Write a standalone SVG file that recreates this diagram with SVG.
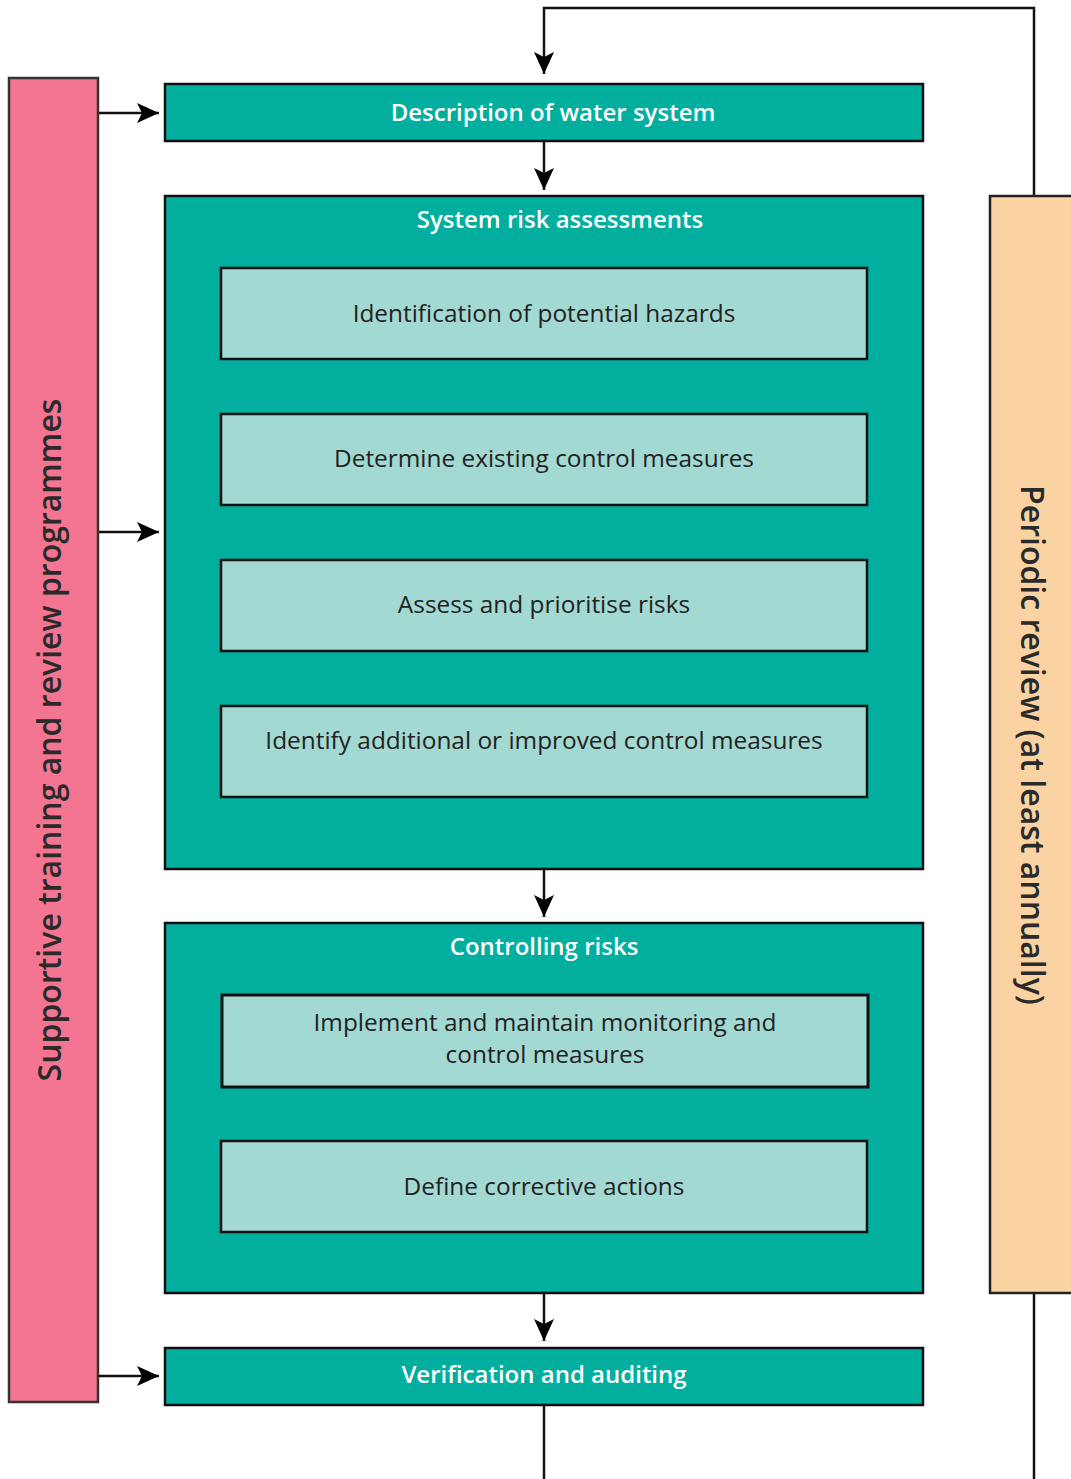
<svg xmlns="http://www.w3.org/2000/svg" width="1071" height="1479" viewBox="0 0 1071 1479">
<style>
.main{fill:#02AE9E;stroke:#111;stroke-width:2.5}
.sub{fill:#A2D9D2;stroke:#111;stroke-width:2.5}
.ht{font-family:"Open Sans","Noto Sans",sans-serif;font-weight:600;font-size:24px;fill:#fff;text-anchor:middle}
.st{font-family:"Open Sans","Noto Sans",sans-serif;font-size:24.4px;fill:#222;text-anchor:middle}
.vt{font-family:"Open Sans","Noto Sans",sans-serif;font-weight:600;font-size:32px;fill:#2a2a2a;text-anchor:middle}
.ln{fill:none;stroke:#111;stroke-width:2.5}
</style>
<defs>
<marker id="ah" markerUnits="userSpaceOnUse" markerWidth="24" markerHeight="22" refX="22" refY="10" orient="auto">
<path d="M0,0 L22,10 L0,20 L5,10 z" fill="#000"/>
</marker>
</defs>
<rect width="1071" height="1479" fill="#fff"/>
<g id="connectors">
<path class="ln" d="M1034,196 V8 H544 V74" marker-end="url(#ah)"/>
<path class="ln" d="M544,141 V190" marker-end="url(#ah)"/>
<path class="ln" d="M544,869 V917" marker-end="url(#ah)"/>
<path class="ln" d="M544,1293 V1341" marker-end="url(#ah)"/>
<path class="ln" d="M544,1405 V1479"/>
<path class="ln" d="M1034,1293 V1479"/>
<path class="ln" d="M98,113 H159" marker-end="url(#ah)"/>
<path class="ln" d="M98,532 H159" marker-end="url(#ah)"/>
<path class="ln" d="M98,1376 H159" marker-end="url(#ah)"/>
</g>
<g id="training">
<rect x="9" y="78" width="89" height="1324" fill="#F37592" stroke="#333" stroke-width="2.5"/>
<text class="vt" transform="translate(61,740) rotate(-90)">Supportive training and review programmes</text>
</g>
<g id="periodic">
<rect x="990" y="196" width="90" height="1097" fill="#FBD3A2" stroke="#222" stroke-width="2.5"/>
<text class="vt" transform="translate(1021,745) rotate(90)">Periodic review (at least annually)</text>
</g>
<g id="description">
<rect class="main" x="165" y="84" width="758" height="57"/>
<text class="ht" x="553" y="121">Description of water system</text>
</g>
<g id="risk">
<rect class="main" x="165" y="196" width="758" height="673"/>
<text class="ht" x="560" y="228">System risk assessments</text>
</g>
<g id="hazards">
<rect class="sub" x="221" y="268" width="646" height="91"/>
<text class="st" x="544" y="322">Identification of potential hazards</text>
</g>
<g id="existing">
<rect class="sub" x="221" y="414" width="646" height="91"/>
<text class="st" x="544" y="467">Determine existing control measures</text>
</g>
<g id="assess">
<rect class="sub" x="221" y="560" width="646" height="91"/>
<text class="st" x="544" y="613">Assess and prioritise risks</text>
</g>
<g id="additional">
<rect class="sub" x="221" y="706" width="646" height="91"/>
<text class="st" x="544" y="749">Identify additional or improved control measures</text>
</g>
<g id="controlling">
<rect class="main" x="165" y="923" width="758" height="370"/>
<text class="ht" x="544" y="955">Controlling risks</text>
</g>
<g id="implement">
<rect class="sub" x="222" y="995" width="646" height="92" style="stroke-width:3"/>
<text class="st" x="545" y="1031">Implement and maintain monitoring and</text>
<text class="st" x="545" y="1063">control measures</text>
</g>
<g id="corrective">
<rect class="sub" x="221" y="1141" width="646" height="91"/>
<text class="st" x="544" y="1195">Define corrective actions</text>
</g>
<g id="verification">
<rect class="main" x="165" y="1348" width="758" height="57"/>
<text class="ht" x="544" y="1383">Verification and auditing</text>
</g>
</svg>
